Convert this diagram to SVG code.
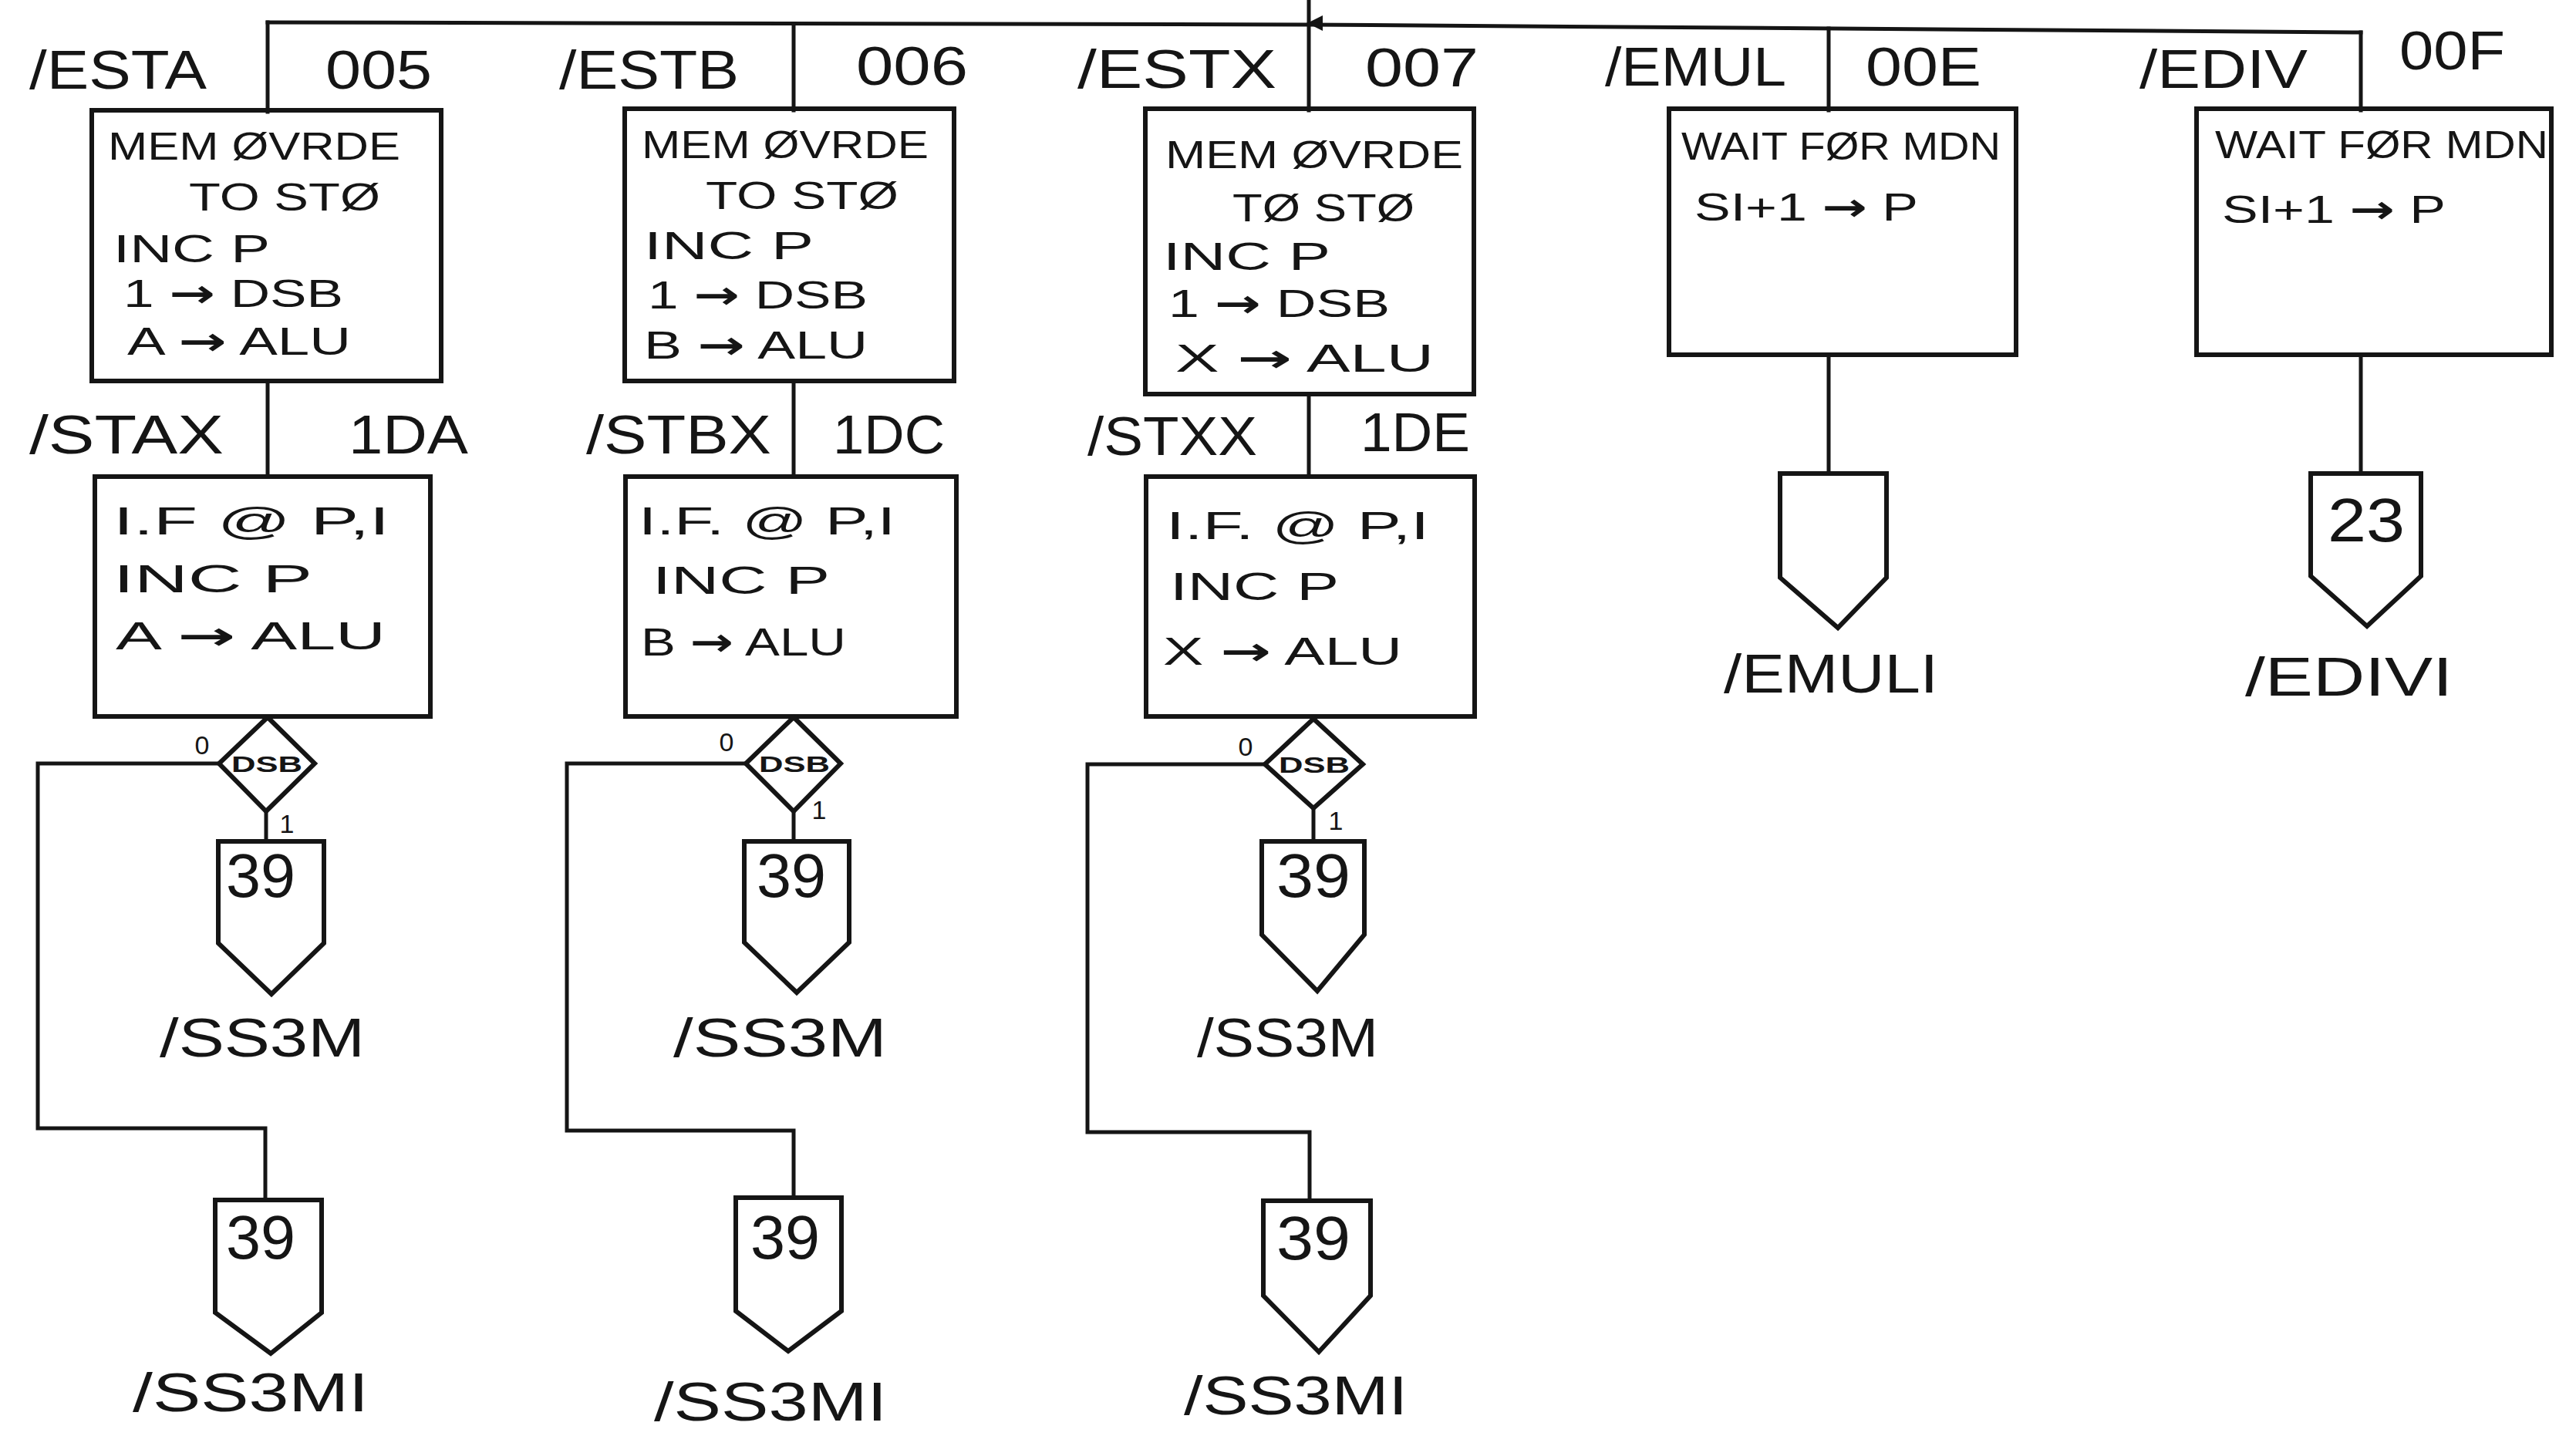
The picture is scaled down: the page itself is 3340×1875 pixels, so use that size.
<svg xmlns="http://www.w3.org/2000/svg" width="3340" height="1875" viewBox="0 0 3340 1875">
<defs>
<style>
.ln{fill:none;stroke:#151515;stroke-width:5;stroke-linejoin:miter;stroke-linecap:square}
.bx{fill:none;stroke:#151515;stroke-width:6}
.t{font-family:"Liberation Sans",Arial,sans-serif;fill:#151515}
.h{font-size:70px}
.b{font-size:50px}
.n{font-size:80px}
.s{font-size:34px}
.d{font-size:30px;font-weight:bold}
.ar{font-family:"DejaVu Sans",sans-serif;font-weight:bold}
</style>
<marker id="ah" viewBox="0 0 10 10" refX="5" refY="9" markerWidth="4" markerHeight="4" orient="auto-start-reverse" markerUnits="strokeWidth">
<path d="M0,0 L10,0 L5,10 Z" fill="#151515"/>
</marker>
</defs>
<rect width="3340" height="1875" fill="#ffffff"/>

<g id="connectors">
<line class="ln" x1="1697" y1="0" x2="1697" y2="30" marker-end="url(#ah)"/>
<polyline class="ln" points="347,29 1697,32 3061,42"/>
<line class="ln" x1="347" y1="29" x2="347" y2="145"/>
<line class="ln" x1="1029" y1="31" x2="1029" y2="143"/>
<line class="ln" x1="1697" y1="32" x2="1697" y2="143"/>
<line class="ln" x1="2371" y1="37" x2="2371" y2="143"/>
<line class="ln" x1="3061" y1="42" x2="3061" y2="143"/>
<line class="ln" x1="347" y1="494" x2="347" y2="618"/>
<line class="ln" x1="1029" y1="494" x2="1029" y2="618"/>
<line class="ln" x1="1697" y1="511" x2="1697" y2="618"/>
<line class="ln" x1="2371" y1="460" x2="2371" y2="614"/>
<line class="ln" x1="3061" y1="460" x2="3061" y2="614"/>
<line class="ln" x1="345" y1="1052" x2="345" y2="1091"/>
<line class="ln" x1="1029" y1="1052" x2="1029" y2="1091"/>
<line class="ln" x1="1703" y1="1048" x2="1703" y2="1091"/>
<polyline class="ln" points="284,990 49,990 49,1463 344,1463 344,1556"/>
<polyline class="ln" points="967,990 735,990 735,1466 1029,1466 1029,1553"/>
<polyline class="ln" points="1640,991 1410,991 1410,1468 1698,1468 1698,1557"/>
</g>

<g id="n-esta">
<rect class="bx" x="119" y="143" width="453" height="351"/>
<text class="t h" x="38" y="115" textLength="230" lengthAdjust="spacingAndGlyphs">/ESTA</text>
<text class="t h" x="422" y="115" textLength="138" lengthAdjust="spacingAndGlyphs">005</text>
<text class="t b" x="140" y="207" textLength="379" lengthAdjust="spacingAndGlyphs">MEM ØVRDE</text>
<text class="t b" x="245" y="273" textLength="248" lengthAdjust="spacingAndGlyphs">TO STØ</text>
<text class="t b" x="147" y="340" textLength="203" lengthAdjust="spacingAndGlyphs">INC P</text>
<text class="t b" x="160" y="398" textLength="285" lengthAdjust="spacingAndGlyphs">1 <tspan class="ar">→</tspan> DSB</text>
<text class="t b" x="165" y="460" textLength="290" lengthAdjust="spacingAndGlyphs">A <tspan class="ar">→</tspan> ALU</text>
</g>

<g id="n-estb">
<rect class="bx" x="810" y="141" width="427" height="353"/>
<text class="t h" x="725" y="115" textLength="233" lengthAdjust="spacingAndGlyphs">/ESTB</text>
<text class="t h" x="1110" y="110" textLength="145" lengthAdjust="spacingAndGlyphs">006</text>
<text class="t b" x="832" y="205" textLength="372" lengthAdjust="spacingAndGlyphs">MEM ØVRDE</text>
<text class="t b" x="915" y="271" textLength="250" lengthAdjust="spacingAndGlyphs">TO STØ</text>
<text class="t b" x="835" y="336" textLength="220" lengthAdjust="spacingAndGlyphs">INC P</text>
<text class="t b" x="840" y="400" textLength="285" lengthAdjust="spacingAndGlyphs">1 <tspan class="ar">→</tspan> DSB</text>
<text class="t b" x="835" y="465" textLength="290" lengthAdjust="spacingAndGlyphs">B <tspan class="ar">→</tspan> ALU</text>
</g>

<g id="n-estx">
<rect class="bx" x="1485" y="141" width="426" height="370"/>
<text class="t h" x="1397" y="114" textLength="258" lengthAdjust="spacingAndGlyphs">/ESTX</text>
<text class="t h" x="1770" y="112" textLength="147" lengthAdjust="spacingAndGlyphs">007</text>
<text class="t b" x="1511" y="218" textLength="386" lengthAdjust="spacingAndGlyphs">MEM ØVRDE</text>
<text class="t b" x="1598" y="287" textLength="236" lengthAdjust="spacingAndGlyphs">TØ STØ</text>
<text class="t b" x="1508" y="350" textLength="217" lengthAdjust="spacingAndGlyphs">INC P</text>
<text class="t b" x="1515" y="411" textLength="287" lengthAdjust="spacingAndGlyphs">1 <tspan class="ar">→</tspan> DSB</text>
<text class="t b" x="1524" y="482" textLength="335" lengthAdjust="spacingAndGlyphs">X <tspan class="ar">→</tspan> ALU</text>
</g>

<g id="n-emul">
<rect class="bx" x="2164" y="141" width="450" height="319"/>
<text class="t h" x="2081" y="111" textLength="235" lengthAdjust="spacingAndGlyphs">/EMUL</text>
<text class="t h" x="2419" y="111" textLength="150" lengthAdjust="spacingAndGlyphs">00E</text>
<text class="t b" x="2180" y="207" textLength="414" lengthAdjust="spacingAndGlyphs">WAIT FØR MDN</text>
<text class="t b" x="2197" y="286" textLength="290" lengthAdjust="spacingAndGlyphs">SI+1 <tspan class="ar">→</tspan> P</text>
</g>

<g id="n-ediv">
<rect class="bx" x="2848" y="141" width="460" height="319"/>
<text class="t h" x="2774" y="114" textLength="218" lengthAdjust="spacingAndGlyphs">/EDIV</text>
<text class="t h" x="3111" y="90" textLength="137" lengthAdjust="spacingAndGlyphs">00F</text>
<text class="t b" x="2872" y="205" textLength="432" lengthAdjust="spacingAndGlyphs">WAIT FØR MDN</text>
<text class="t b" x="2881" y="289" textLength="290" lengthAdjust="spacingAndGlyphs">SI+1 <tspan class="ar">→</tspan> P</text>
</g>

<g id="n-stax">
<rect class="bx" x="123" y="618" width="435" height="311"/>
<text class="t h" x="38" y="588" textLength="252" lengthAdjust="spacingAndGlyphs">/STAX</text>
<text class="t h" x="452" y="588" textLength="155" lengthAdjust="spacingAndGlyphs">1DA</text>
<text class="t b" x="147" y="693" textLength="358" lengthAdjust="spacingAndGlyphs">I.F @ P,I</text>
<text class="t b" x="147" y="768" textLength="258" lengthAdjust="spacingAndGlyphs">INC P</text>
<text class="t b" x="150" y="842" textLength="350" lengthAdjust="spacingAndGlyphs">A <tspan class="ar">→</tspan> ALU</text>
</g>

<g id="n-stbx">
<rect class="bx" x="811" y="618" width="429" height="311"/>
<text class="t h" x="760" y="588" textLength="240" lengthAdjust="spacingAndGlyphs">/STBX</text>
<text class="t h" x="1080" y="588" textLength="145" lengthAdjust="spacingAndGlyphs">1DC</text>
<text class="t b" x="828" y="693" textLength="333" lengthAdjust="spacingAndGlyphs">I.F. @ P,I</text>
<text class="t b" x="846" y="770" textLength="230" lengthAdjust="spacingAndGlyphs">INC P</text>
<text class="t b" x="831" y="850" textLength="266" lengthAdjust="spacingAndGlyphs">B <tspan class="ar">→</tspan> ALU</text>
</g>

<g id="n-stxx">
<rect class="bx" x="1486" y="618" width="426" height="311"/>
<text class="t h" x="1410" y="590" textLength="220" lengthAdjust="spacingAndGlyphs">/STXX</text>
<text class="t h" x="1764" y="585" textLength="142" lengthAdjust="spacingAndGlyphs">1DE</text>
<text class="t b" x="1512" y="699" textLength="341" lengthAdjust="spacingAndGlyphs">I.F. @ P,I</text>
<text class="t b" x="1517" y="778" textLength="219" lengthAdjust="spacingAndGlyphs">INC P</text>
<text class="t b" x="1508" y="862" textLength="310" lengthAdjust="spacingAndGlyphs">X <tspan class="ar">→</tspan> ALU</text>
</g>

<g id="d-1">
<polygon class="bx" points="347,930 408,990 345,1052 284,990"/>
<text class="t d" x="346" y="1001" text-anchor="middle" textLength="92" lengthAdjust="spacingAndGlyphs">DSB</text>
<text class="t s" x="262" y="978" text-anchor="middle">0</text>
<text class="t s" x="372" y="1080" text-anchor="middle">1</text>
</g>
<g id="d-2">
<polygon class="bx" points="1029,930 1090,990 1029,1052 967,990"/>
<text class="t d" x="1030" y="1001" text-anchor="middle" textLength="92" lengthAdjust="spacingAndGlyphs">DSB</text>
<text class="t s" x="942" y="974" text-anchor="middle">0</text>
<text class="t s" x="1062" y="1062" text-anchor="middle">1</text>
</g>
<g id="d-3">
<polygon class="bx" points="1703,932 1767,991 1703,1048 1640,991"/>
<text class="t d" x="1704" y="1002" text-anchor="middle" textLength="92" lengthAdjust="spacingAndGlyphs">DSB</text>
<text class="t s" x="1615" y="980" text-anchor="middle">0</text>
<text class="t s" x="1732" y="1076" text-anchor="middle">1</text>
</g>

<g id="c-ss3m-1">
<polygon class="bx" points="283,1091 420,1091 420,1223 352,1289 283,1223"/>
<text class="t n" x="338" y="1163" text-anchor="middle" textLength="90" lengthAdjust="spacingAndGlyphs">39</text>
<text class="t h" x="207" y="1370" textLength="266" lengthAdjust="spacingAndGlyphs">/SS3M</text>
</g>
<g id="c-ss3mi-1">
<polygon class="bx" points="279,1556 417,1556 417,1702 351,1755 279,1702"/>
<text class="t n" x="338" y="1632" text-anchor="middle" textLength="90" lengthAdjust="spacingAndGlyphs">39</text>
<text class="t h" x="172" y="1830" textLength="306" lengthAdjust="spacingAndGlyphs">/SS3MI</text>
</g>
<g id="c-ss3m-2">
<polygon class="bx" points="965,1091 1101,1091 1101,1222 1033,1287 965,1222"/>
<text class="t n" x="1026" y="1163" text-anchor="middle" textLength="90" lengthAdjust="spacingAndGlyphs">39</text>
<text class="t h" x="873" y="1370" textLength="277" lengthAdjust="spacingAndGlyphs">/SS3M</text>
</g>
<g id="c-ss3mi-2">
<polygon class="bx" points="954,1553 1091,1553 1091,1700 1022,1752 954,1700"/>
<text class="t n" x="1018" y="1632" text-anchor="middle" textLength="90" lengthAdjust="spacingAndGlyphs">39</text>
<text class="t h" x="848" y="1842" textLength="302" lengthAdjust="spacingAndGlyphs">/SS3MI</text>
</g>
<g id="c-ss3m-3">
<polygon class="bx" points="1636,1091 1769,1091 1769,1212 1708,1285 1636,1212"/>
<text class="t n" x="1703" y="1163" text-anchor="middle" textLength="96" lengthAdjust="spacingAndGlyphs">39</text>
<text class="t h" x="1552" y="1370" textLength="235" lengthAdjust="spacingAndGlyphs">/SS3M</text>
</g>
<g id="c-ss3mi-3">
<polygon class="bx" points="1638,1557 1777,1557 1777,1680 1710,1753 1638,1680"/>
<text class="t n" x="1703" y="1633" text-anchor="middle" textLength="96" lengthAdjust="spacingAndGlyphs">39</text>
<text class="t h" x="1535" y="1834" textLength="290" lengthAdjust="spacingAndGlyphs">/SS3MI</text>
</g>
<g id="c-emuli">
<polygon class="bx" points="2308,614 2446,614 2446,749 2383,814 2308,749"/>
<text class="t h" x="2235" y="898" textLength="278" lengthAdjust="spacingAndGlyphs">/EMULI</text>
</g>
<g id="c-edivi">
<polygon class="bx" points="2996,614 3139,614 3139,747 3069,812 2996,747"/>
<text class="t n" x="3068" y="702" text-anchor="middle" font-size="90" textLength="100" lengthAdjust="spacingAndGlyphs">23</text>
<text class="t h" x="2911" y="902" textLength="269" lengthAdjust="spacingAndGlyphs">/EDIVI</text>
</g>
</svg>
